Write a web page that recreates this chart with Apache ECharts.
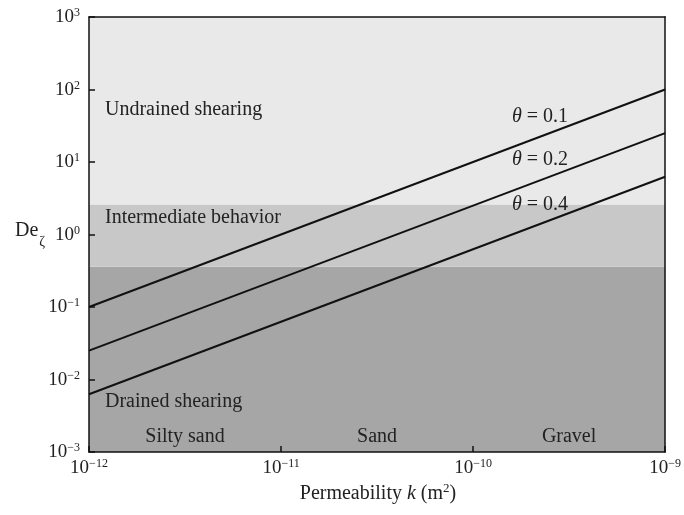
<!DOCTYPE html>
<html>
<head>
<meta charset="utf-8">
<script src="https://cdn.jsdelivr.net/npm/echarts@6/dist/echarts.min.js"></script>
<style>
  html, body { margin: 0; padding: 0; background: #fff; }
  #chart { width: 684px; height: 515px; }
</style>
</head>
<body>
<div id="chart"></div>
<script>
// Permeability range (m^2) and Deborah-number range
const xRange = [1e-12, 1e-9];
const yRange = [1e-3, 1e3];

// Behaviour zones: edges, fill colours and labels (bottom to top)
const zoneEdges = [1e-3, 0.36, 2.6, 1e3];
const zoneColors = ['#a6a6a6', '#c8c8c8', '#e9e9e9'];
const zoneNames = ['Drained shearing', 'Intermediate behavior', 'Undrained shearing'];

// De_zeta vs k for three theta values (end points of each straight line on log-log axes)
const thetas = ['0.1', '0.2', '0.4'];
const lineK = [1e-12, 1e-9];
const deTheta01 = [0.1, 100];
const deTheta02 = [0.025, 25];
const deTheta04 = [0.00625, 6.25];

// Soil classes along the permeability axis
const soilNames = ['Silty sand', 'Sand', 'Gravel'];

const FONT = '"Liberation Serif", "Times New Roman", serif';

function powLabel(v) {
  const e = Math.round(Math.log10(v));
  const s = e < 0 ? '\u2212' + Math.abs(e) : String(e);
  return '{b|10}{s|' + s + '}';
}
const richPow = {
  b: { fontFamily: FONT, fontSize: 19, color: '#222', lineHeight: 20, verticalAlign: 'bottom' },
  s: { fontFamily: FONT, fontSize: 12, color: '#222', lineHeight: 12, verticalAlign: 'top' }
};

const chart = echarts.init(document.getElementById('chart'), null, { renderer: 'canvas' });

const seriesData = [deTheta01, deTheta02, deTheta04].map((vals, i) => ({
  type: 'line',
  name: 'theta ' + thetas[i],
  data: lineK.map((k, j) => [k, vals[j]]),
  symbol: 'none',
  lineStyle: { color: '#111', width: 2 },
  z: 5,
  silent: true
}));

const zoneSeries = {
  type: 'line',
  data: [],
  silent: true,
  z: 1,
  markArea: {
    silent: true,
    data: zoneColors.map((c, i) => [
      { yAxis: zoneEdges[i], itemStyle: { color: c } },
      { yAxis: zoneEdges[i + 1] }
    ])
  }
};

const axisFrame = { show: true, onZero: false, lineStyle: { color: '#111', width: 1.5 } };

chart.setOption({
  animation: false,
  backgroundColor: '#fff',
  grid: { left: 89, right: 14, top: 17, bottom: 63 },
  xAxis: [{
    type: 'log', logBase: 10, min: xRange[0], max: xRange[1], splitNumber: 3,
    z: 10,
    axisLine: axisFrame,
    axisTick: { show: true, inside: true, length: 6, lineStyle: { color: '#111', width: 1.5 } },
    splitLine: { show: false },
    minorTick: { show: false },
    axisLabel: { formatter: powLabel, rich: richPow, margin: 6 },
  }, {
    type: 'log', logBase: 10, min: xRange[0], max: xRange[1], position: 'top',
    z: 10,
    axisLine: axisFrame, axisTick: { show: false }, axisLabel: { show: false }, splitLine: { show: false }
  }],
  yAxis: [{
    type: 'log', logBase: 10, min: yRange[0], max: yRange[1], splitNumber: 6,
    z: 10,
    axisLine: axisFrame,
    axisTick: { show: true, inside: true, length: 6, lineStyle: { color: '#111', width: 1.5 } },
    splitLine: { show: false },
    axisLabel: { formatter: powLabel, rich: richPow, margin: 9 },
  }, {
    type: 'log', logBase: 10, min: yRange[0], max: yRange[1], position: 'right',
    z: 10,
    axisLine: axisFrame, axisTick: { show: false }, axisLabel: { show: false }, splitLine: { show: false }
  }],
  series: [zoneSeries].concat(seriesData)
});

// Annotation text
const txt = { fontFamily: FONT, fontSize: 20, fill: '#222' };
function at(k, de) { return chart.convertToPixel({ xAxisIndex: 0, yAxisIndex: 0 }, [k, de]); }

const graphics = [];
const zoneLabelY = [402, 218, 110];
zoneNames.forEach((n, i) => {
  graphics.push({ type: 'text', x: 105, y: zoneLabelY[i], z: 20,
    style: Object.assign({ text: n, verticalAlign: 'middle' }, txt) });
});
const soilCenters = [Math.sqrt(1e-12 * 1e-11), Math.sqrt(1e-11 * 1e-10), Math.sqrt(1e-10 * 1e-9)];
soilNames.forEach((n, i) => {
  const p = at(soilCenters[i], 1);
  graphics.push({ type: 'text', x: p[0], y: 437, z: 20,
    style: Object.assign({ text: n, align: 'center', verticalAlign: 'middle' }, txt) });
});
const thetaY = [117, 160, 205];
thetas.forEach((t, i) => {
  graphics.push({ type: 'text', x: 512, y: thetaY[i], z: 20,
    style: Object.assign({
      text: '{i|\u03b8} = ' + t, verticalAlign: 'middle',
      rich: { i: { fontFamily: FONT, fontSize: 20, fontStyle: 'italic', fill: '#222' } }
    }, txt) });
});
// Axis titles
graphics.push({ type: 'text', x: 15, y: 232, z: 20,
  style: { text: '{a|De}{z|\u03b6}', verticalAlign: 'middle', rich: {
    a: { fontFamily: FONT, fontSize: 20, fill: '#222', lineHeight: 22, verticalAlign: 'top' },
    z: { fontFamily: FONT, fontSize: 14, fill: '#222', lineHeight: 14, verticalAlign: 'bottom', padding: [0, 0, -6, 1] }
  } } });
graphics.push({ type: 'text', x: 378, y: 493, z: 20,
  style: { text: '{a|Permeability }{i|k}{a| (m}{s|2}{a|)}', align: 'center', verticalAlign: 'middle', rich: {
    a: { fontFamily: FONT, fontSize: 20, fill: '#222', lineHeight: 22, verticalAlign: 'bottom' },
    i: { fontFamily: FONT, fontSize: 20, fill: '#222', fontStyle: 'italic', lineHeight: 22, verticalAlign: 'bottom' },
    s: { fontFamily: FONT, fontSize: 13, fill: '#222', lineHeight: 13, verticalAlign: 'top' }
  } } });

chart.setOption({ graphic: graphics });
</script>
</body>
</html>
